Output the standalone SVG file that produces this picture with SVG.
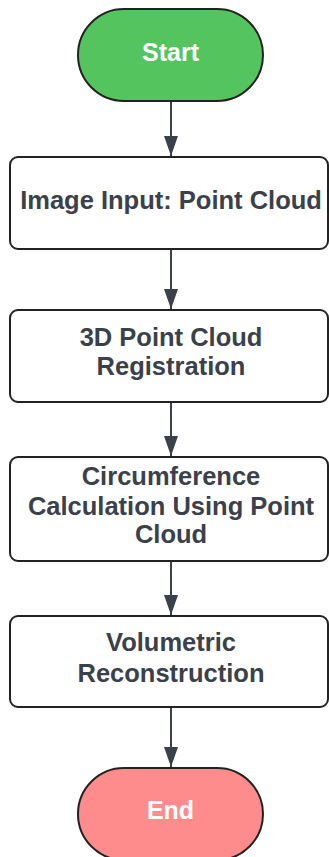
<svg xmlns="http://www.w3.org/2000/svg" width="329" height="857" viewBox="0 0 329 857">
  <style>
    .box { fill: #ffffff; stroke: #222222; stroke-width: 2; }
    .start { fill: #54C45E; stroke: #222222; stroke-width: 2; }
    .end { fill: #FF8C8C; stroke: #222222; stroke-width: 2; }
    .label { font-family: "Liberation Sans", Arial, sans-serif; font-weight: bold; font-size: 25.5px; fill: #3A414A; text-anchor: middle; }
    .light { font-family: "Liberation Sans", Arial, sans-serif; font-weight: bold; font-size: 25px; fill: #ffffff; text-anchor: middle; }
    .edge { stroke: #3A414A; stroke-width: 2; fill: none; marker-end: url(#arrow); }
  </style>
  <defs>
    <!-- filled triangular head, tip at the end of the line -->
    <marker id="arrow" markerWidth="20" markerHeight="14" refX="20" refY="7" orient="auto" markerUnits="userSpaceOnUse" viewBox="0 0 20 14">
      <path d="M0,0 L20,7 L0,14 Z" fill="#3A414A"/>
    </marker>
  </defs>
  <rect width="329" height="857" fill="#ffffff"/>

  <g id="connectors">
    <line class="edge" x1="171" y1="101" x2="171" y2="156"/>
    <line class="edge" x1="171" y1="249" x2="171" y2="309"/>
    <line class="edge" x1="171" y1="402" x2="171" y2="456"/>
    <line class="edge" x1="171" y1="561" x2="171" y2="615"/>
    <line class="edge" x1="171" y1="707" x2="171" y2="767"/>
  </g>

  <g id="start">
    <rect class="start" x="78" y="9" width="185" height="92" rx="46" ry="46"/>
    <text class="light" x="170.5" y="61">Start</text>
  </g>

  <g id="image-input">
    <rect class="box" x="10" y="157" width="318" height="92" rx="8" ry="8"/>
    <text class="label" x="171" y="209">Image Input: Point Cloud</text>
  </g>

  <g id="registration">
    <rect class="box" x="10" y="310" width="318" height="92" rx="8" ry="8"/>
    <text class="label" x="171" y="346">3D Point Cloud</text>
    <text class="label" x="171" y="375">Registration</text>
  </g>

  <g id="circumference">
    <rect class="box" x="10" y="457" width="318" height="104" rx="8" ry="8"/>
    <text class="label" x="171" y="485">Circumference</text>
    <text class="label" x="171" y="515">Calculation Using Point</text>
    <text class="label" x="171" y="543">Cloud</text>
  </g>

  <g id="volumetric">
    <rect class="box" x="10" y="616" width="318" height="91" rx="8" ry="8"/>
    <text class="label" x="171" y="651">Volumetric</text>
    <text class="label" x="171" y="682">Reconstruction</text>
  </g>

  <g id="end">
    <rect class="end" x="78" y="768" width="185" height="92" rx="46" ry="46"/>
    <text class="light" x="170.5" y="819">End</text>
  </g>
</svg>
